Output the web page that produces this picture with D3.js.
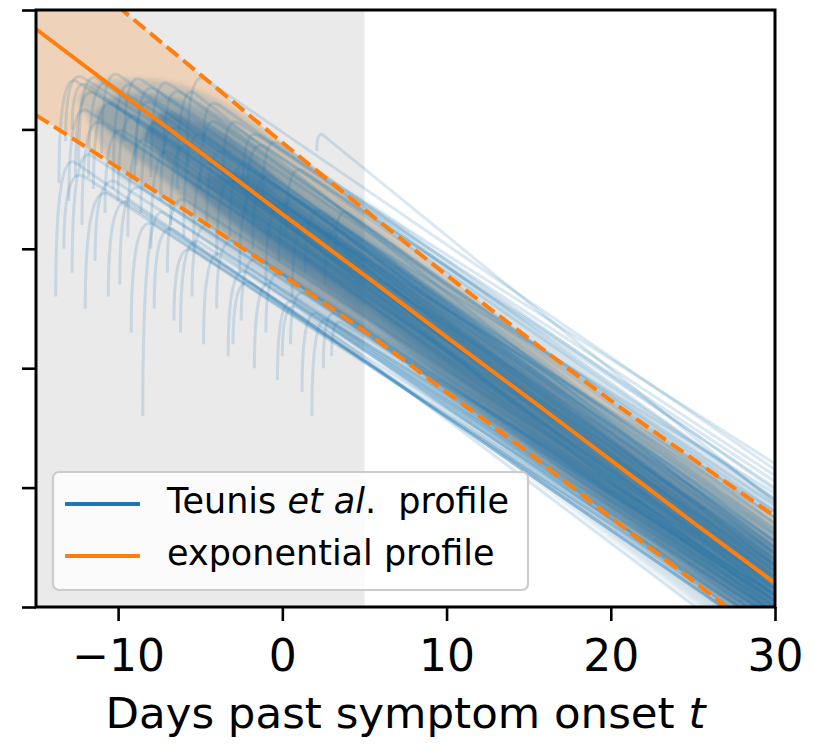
<!DOCTYPE html>
<html>
<head>
<meta charset="utf-8">
<script src="https://cdn.jsdelivr.net/npm/d3@7"></script>
<style>
  html, body { margin: 0; padding: 0; background: #ffffff; }
  svg { display: block; font-family: "DejaVu Sans", sans-serif; }
</style>
</head>
<body>
<svg id="chart" width="813" height="745"></svg>
<script>
// ---- axes ------------------------------------------------------------
const xTicks = [-10, 0, 10, 20, 30];
const yTicks = [0, 1, 2, 3, 4, 5];          // log10 load, drawn without labels
const dayDomain = [-15, 30];
const levelDomain = [0, 5];
const presymptomaticSpan = [-15, 5];        // shaded window before day 5

// ---- exponential profile: central fit and dashed envelope -------------
const expDays   = [-15, -10, -5, 0, 5, 10, 15, 20, 25, 30];
const expCentre = [4.84, 4.32, 3.81, 3.29, 2.78, 2.26, 1.75, 1.23, 0.71, 0.20];
const expUpper  = [5.62, 5.03, 4.46, 3.89, 3.33, 2.78, 2.25, 1.73, 1.24, 0.76];
const expLower  = [4.12, 3.68, 3.24, 2.78, 2.31, 1.80, 1.29, 0.75, 0.22, -0.32];

// ---- Teunis et al. ensemble: nested envelopes of the profile bundle ---
const bandDays  = [-12.5, -11.5, -10, -8.5, -7, -5, -2, 0, 3, 5, 10, 15, 20, 25, 30];
const outerLow  = [4.25, 4.00, 3.62, 3.50, 3.38, 3.15, 2.84, 2.64, 2.36, 2.16, 1.63, 1.10, 0.58, 0.05, -0.48];
const outerHigh = [4.25, 4.40, 4.42, 4.42, 4.40, 4.32, 4.08, 3.87, 3.55, 3.40, 2.90, 2.38, 1.86, 1.38, 0.92];
const midLow    = [null, 4.12, 3.90, 3.72, 3.55, 3.30, 2.98, 2.78, 2.50, 2.29, 1.76, 1.23, 0.71, 0.18, -0.34];
const midHigh   = [null, 4.12, 4.28, 4.30, 4.28, 4.18, 3.92, 3.70, 3.40, 3.22, 2.70, 2.18, 1.64, 1.16, 0.68];
const innerLow  = [null, null, null, 3.95, 3.72, 3.45, 3.10, 2.90, 2.62, 2.42, 1.88, 1.35, 0.82, 0.30, -0.22];
const innerHigh = [null, null, null, 3.95, 4.15, 4.05, 3.80, 3.55, 3.26, 3.08, 2.56, 2.03, 1.50, 1.00, 0.52];
const coreLow   = [null, null, null, null, null, 3.60, 3.22, 3.00, 2.72, 2.52, 1.98, 1.45, 0.92, 0.40, -0.12];
const coreHigh  = [null, null, null, null, null, 3.60, 3.62, 3.42, 3.14, 2.96, 2.44, 1.90, 1.38, 0.88, 0.40];

// ---- individual Teunis et al. profiles --------------------------------
// each row: [onset day, level at onset, shoulder day, shoulder level, level at day 30]
const upperProfiles = [
  [-13.6, 3.55, -12.5, 4.40, 0.55], [-13.2, 3.90, -12.1, 4.43, 0.75],
  [-12.8, 4.00, -11.7, 4.36, 0.30], [-12.4, 3.70, -11.2, 4.42, 0.40],
  [-11.8, 3.60, -10.5, 4.38, 0.95], [-11.0, 3.80, -9.9, 4.45, 0.62],
  [-10.3, 3.50, -9.1, 4.36, 0.30],  [-9.6, 3.90, -8.5, 4.41, 0.85],
  [-8.9, 3.70, -7.7, 4.33, 0.50],   [-8.0, 3.60, -6.9, 4.38, 1.05],
  [-7.2, 3.80, -6.1, 4.30, 0.70],   [-6.4, 3.50, -5.3, 4.30, 0.45],
  [-5.8, 3.70, -4.7, 4.42, 1.15],   [-4.8, 3.90, -3.8, 4.20, 0.90],
  [-3.6, 3.60, -2.6, 4.05, 1.10],   [-2.4, 3.50, -1.4, 3.95, 1.20],
  [-1.2, 3.40, -0.2, 3.88, 0.98],   [2.1, 3.82, 2.5, 3.95, 0.87]
];
const middleProfiles = [
  [-13.0, 3.40, -11.8, 4.15, 0.20], [-12.6, 3.60, -11.4, 4.30, 0.80],
  [-12.2, 3.20, -11.0, 4.05, 0.35], [-11.5, 3.50, -10.2, 4.20, 0.10],
  [-10.8, 3.30, -9.6, 3.98, 0.45],  [-10.0, 3.40, -8.8, 4.10, 0.25],
  [-9.4, 3.10, -8.2, 3.90, 0.05],   [-9.0, 3.60, -7.9, 4.22, 0.70],
  [-8.6, 3.30, -7.4, 4.05, 0.60],   [-8.0, 3.00, -6.8, 3.80, 0.15],
  [-7.4, 3.40, -6.2, 4.00, 0.40],   [-6.8, 3.20, -5.6, 3.85, -0.05],
  [-6.0, 3.10, -4.8, 3.95, 0.55],   [-5.4, 3.00, -4.2, 3.70, 0.20],
  [-5.0, 3.50, -3.9, 4.05, 0.80],   [-4.6, 3.20, -3.4, 3.80, 0.35],
  [-4.0, 2.90, -2.8, 3.55, 0.00],   [-3.2, 3.10, -2.0, 3.70, 0.50],
  [-2.6, 2.80, -1.4, 3.45, 0.10],   [-2.2, 3.30, -1.0, 3.85, 0.90],
  [-1.8, 3.00, -0.6, 3.60, 0.65],   [-1.0, 2.70, 0.2, 3.35, 0.25],
  [-0.2, 2.90, 1.0, 3.40, 0.45],    [0.2, 3.10, 1.3, 3.65, 1.00],
  [0.6, 2.60, 1.8, 3.20, 0.15],     [1.4, 2.80, 2.6, 3.30, 0.55],
  [2.6, 2.70, 3.5, 3.15, 0.35],     [3.2, 2.90, 4.0, 3.30, 0.75]
];
const lowerProfiles = [
  [-13.8, 2.60, -12.6, 3.72, -0.30], [-13.3, 3.00, -12.0, 3.60, -0.10],
  [-12.8, 2.80, -11.6, 3.78, 0.05],  [-12.0, 2.50, -10.5, 3.45, -0.20],
  [-11.4, 2.90, -10.0, 3.55, 0.00],  [-10.6, 2.60, -9.2, 3.38, -0.25],
  [-9.9, 2.70, -8.5, 3.50, 0.10],    [-9.2, 2.30, -7.8, 3.20, -0.15],
  [-8.5, 1.60, -7.2, 3.30, -0.05],   [-7.8, 2.50, -6.5, 3.15, -0.30],
  [-7.0, 2.80, -5.8, 3.40, 0.20],    [-6.6, 2.40, -5.4, 2.98, -0.20],
  [-6.2, 2.30, -5.0, 3.05, -0.10],   [-5.5, 2.60, -4.3, 3.18, 0.05],
  [-4.8, 2.20, -3.6, 2.95, -0.20],   [-4.0, 2.50, -2.8, 3.05, 0.15],
  [-3.3, 2.10, -2.1, 2.80, -0.05],   [-3.0, 2.20, -1.8, 2.70, -0.30],
  [-2.5, 2.40, -1.3, 2.90, 0.10],    [-1.7, 2.00, -0.6, 2.70, -0.15],
  [-1.0, 2.30, 0.0, 2.78, 0.05],     [-0.3, 1.90, 0.8, 2.55, -0.20],
  [0.0, 2.10, 1.0, 2.50, -0.50],     [0.5, 2.20, 1.5, 2.62, 0.00],
  [1.2, 1.80, 2.2, 2.45, -0.10],     [1.8, 1.60, 2.8, 2.40, 0.10],
  [2.5, 2.00, 3.3, 2.45, -0.05],     [3.0, 2.10, 3.6, 2.38, 0.20]
];

const legendLabels = ["exponential profile"];

// ---- layout ----------------------------------------------------------
const BLUE = "#1f77b4", ORANGE = "#ff7f0e", BUNDLE = "#2b6c98";
const plotBox = { left: 36, right: 775, top: 10, bottom: 607 };

const x = d3.scaleLinear().domain(dayDomain).range([plotBox.left, plotBox.right]);
const y = d3.scaleLinear().domain(levelDomain).range([plotBox.bottom, plotBox.top]);

const svg = d3.select("#chart");
const defs = svg.append("defs");
defs.append("clipPath").attr("id", "plotClip")
  .append("rect")
  .attr("x", plotBox.left).attr("y", plotBox.top)
  .attr("width", plotBox.right - plotBox.left)
  .attr("height", plotBox.bottom - plotBox.top);
defs.append("filter").attr("id", "soften")
  .attr("x", "-5%").attr("y", "-5%").attr("width", "110%").attr("height", "110%")
  .append("feGaussianBlur").attr("stdDeviation", 2.5);

const plot = svg.append("g").attr("clip-path", "url(#plotClip)");

// shaded pre-symptomatic window
plot.append("rect")
  .attr("x", x(presymptomaticSpan[0]))
  .attr("y", plotBox.top)
  .attr("width", x(presymptomaticSpan[1]) - x(presymptomaticSpan[0]))
  .attr("height", plotBox.bottom - plotBox.top)
  .attr("fill", "#eaeaea");

// envelope fill of the exponential profile
const envelope = d3.area()
  .x((d, i) => x(expDays[i]))
  .y0((d, i) => y(expLower[i]))
  .y1((d, i) => y(expUpper[i]))
  .curve(d3.curveMonotoneX);
plot.append("path")
  .datum(expDays)
  .attr("d", envelope)
  .attr("fill", ORANGE)
  .attr("fill-opacity", 0.22);

// ensemble density envelopes
function bandArea(lo, hi) {
  return d3.area()
    .defined((d, i) => lo[i] !== null && hi[i] !== null)
    .x((d, i) => x(bandDays[i]))
    .y0((d, i) => y(lo[i]))
    .y1((d, i) => y(hi[i]))
    .curve(d3.curveMonotoneX);
}
[[outerLow, outerHigh, 0.2], [midLow, midHigh, 0.3], [innerLow, innerHigh, 0.45], [coreLow, coreHigh, 0.35]]
  .forEach(([lo, hi, op]) => {
    plot.append("path")
      .datum(bandDays)
      .attr("d", bandArea(lo, hi))
      .attr("fill", BUNDLE)
      .attr("fill-opacity", op)
      .attr("filter", "url(#soften)");
  });

// one Teunis et al. profile: steep rise from onset into the shoulder,
// then a straight log-linear decline to day 30
function profilePath(row) {
  const [t0, v0, t1, v1, v30] = row;
  const x0 = x(t0), y0 = y(v0), x1 = x(t1), y1 = y(v1);
  const x2 = x(dayDomain[1]), y2 = y(v30);
  const slope = (y2 - y1) / (x2 - x1);
  const p = d3.path();
  p.moveTo(x0, y0);
  p.quadraticCurveTo(x0, y1 - slope * (x1 - x0), x1, y1);
  p.lineTo(x2, y2);
  return p.toString();
}
plot.append("g")
  .selectAll("path")
  .data(upperProfiles.concat(middleProfiles, lowerProfiles))
  .join("path")
  .attr("d", profilePath)
  .attr("fill", "none")
  .attr("stroke", BLUE)
  .attr("stroke-opacity", 0.17)
  .attr("stroke-width", 3);

// exponential profile lines
const expLine = (vals) => d3.line()
  .x((d, i) => x(expDays[i]))
  .y((d, i) => y(vals[i]))
  .curve(d3.curveMonotoneX);
[[expUpper, "15,6.4"], [expLower, "15,6.4"], [expCentre, null]].forEach(([vals, dash]) => {
  plot.append("path")
    .datum(expDays)
    .attr("d", expLine(vals))
    .attr("fill", "none")
    .attr("stroke", ORANGE)
    .attr("stroke-width", 4)
    .attr("stroke-dasharray", dash);
});

// ---- axes ------------------------------------------------------------
const xAxis = svg.append("g")
  .attr("transform", `translate(0,${plotBox.bottom})`)
  .call(d3.axisBottom(x).tickValues(xTicks).tickSize(14).tickPadding(19));
xAxis.select(".domain").remove();
xAxis.selectAll("line").attr("stroke", "#000").attr("stroke-width", 2.6);
xAxis.selectAll("text")
  .attr("font-family", "DejaVu Sans, sans-serif")
  .attr("font-size", 44)
  .attr("fill", "#000");

const yAxis = svg.append("g")
  .attr("transform", `translate(${plotBox.left},0)`)
  .call(d3.axisLeft(y).tickValues(yTicks).tickSize(14).tickFormat(""));
yAxis.select(".domain").remove();
yAxis.selectAll("line").attr("stroke", "#000").attr("stroke-width", 2.6);

svg.append("rect")
  .attr("x", plotBox.left).attr("y", plotBox.top)
  .attr("width", plotBox.right - plotBox.left)
  .attr("height", plotBox.bottom - plotBox.top)
  .attr("fill", "none")
  .attr("stroke", "#000")
  .attr("stroke-width", 3);

const xLabel = svg.append("text")
  .attr("x", (plotBox.left + plotBox.right) / 2)
  .attr("y", 728)
  .attr("text-anchor", "middle")
  .attr("font-size", 43.5)
  .attr("fill", "#000");
xLabel.append("tspan").text("Days past symptom onset ");
xLabel.append("tspan").attr("font-style", "italic").text("t");

// ---- legend ----------------------------------------------------------
const legend = svg.append("g");
legend.append("rect")
  .attr("x", 53).attr("y", 472)
  .attr("width", 475).attr("height", 118)
  .attr("rx", 6).attr("ry", 6)
  .attr("fill", "#ffffff").attr("fill-opacity", 0.8)
  .attr("stroke", "#cccccc").attr("stroke-width", 2.2);

const legendRows = [
  { color: BLUE, ly: 504, ty: 513 },
  { color: ORANGE, ly: 556, ty: 565 }
];
legendRows.forEach(r => {
  legend.append("line")
    .attr("x1", 65).attr("x2", 140)
    .attr("y1", r.ly).attr("y2", r.ly)
    .attr("stroke", r.color).attr("stroke-width", 4);
});
const t1 = legend.append("text")
  .attr("x", 167).attr("y", legendRows[0].ty)
  .attr("font-size", 35).attr("fill", "#000")
  .style("white-space", "pre");
t1.append("tspan").text("Teunis ");
t1.append("tspan").attr("font-style", "italic").text("et al");
t1.append("tspan").text(".  profile");
legend.append("text")
  .attr("x", 167).attr("y", legendRows[1].ty)
  .attr("font-size", 35).attr("fill", "#000")
  .text(legendLabels[0]);
</script>
</body>
</html>
